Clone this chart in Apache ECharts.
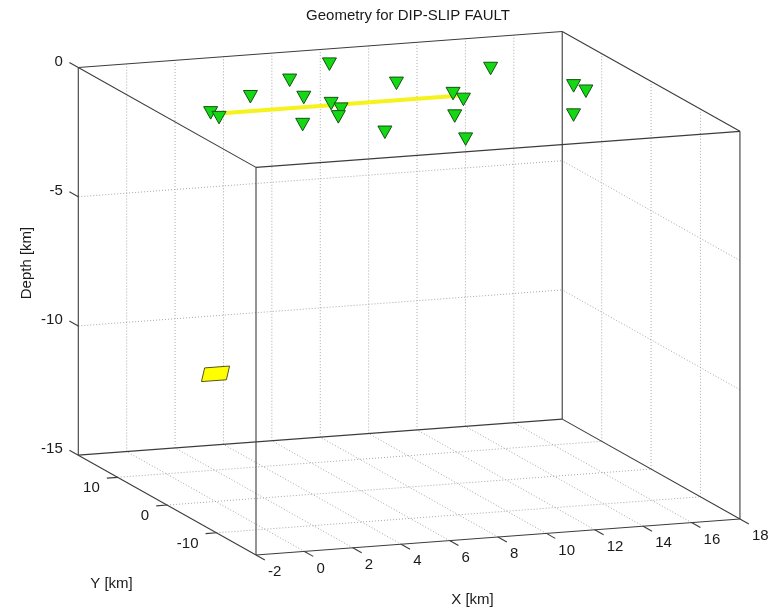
<!DOCTYPE html>
<html>
<head>
<meta charset="utf-8">
<script src="https://cdn.jsdelivr.net/npm/echarts@6/dist/echarts.min.js"></script>
<style>
html,body{margin:0;padding:0;background:#ffffff;}
#chart{width:776px;height:609px;}
</style>
</head>
<body>
<div id="chart"></div>
<script>
// ---------- data ----------
const TITLE = 'Geometry for DIP-SLIP FAULT';
const X_NAME = 'X [km]';
const Y_NAME = 'Y [km]';
const Z_NAME = 'Depth [km]';

const xLim = [-2, 18];
const yLim = [-18, 18];
const zLim = [-15, 0];
const xTicks = [-2, 0, 2, 4, 6, 8, 10, 12, 14, 16, 18];
const yTicks = [-10, 0, 10];
const zTicks = [0, -5, -10, -15];

// seismic stations (surface)
const stationX = [-0.1, -0.1, 2.4, 4.9, 7.4, 4.3, 2.5, 4.9, 4.9, 4.3, 8.6, 5.0, 13.0, 10.0, 10.0, 8.6, 7.5, 14.9, 15.0, 13.0];
const stationY = [0.5, -1.2, 4.7, 9.0, 13.2, 3.2, -5.4, 0.6, -1.4, -3.8, 5.5, -9.8, 8.0, 0.9, -1.2, -6.3, -13.9, 0.5, -1.5, -8.8];
const stationZ = [0, 0, 0, 0, 0, 0, 0, 0, 0, 0, 0, 0, 0, 0, 0, 0, 0, 0, 0, 0];

// fault surface trace
const traceX = [0, 10];
const traceY = [0, 0];
const traceZ = [0, 0];

// fault patch corners
const patchX = [-0.45, 0.58, 0.58, -0.45];
const patchY = [0, 0, 0.65, 0.65];
const patchZ = [-9.8, -9.8, -10.4, -10.4];

// ---------- view (orthographic 3D projection) ----------
const VIEW = { az: -20, el: 11.8, box: [515, 519.6, 396] };
function project(x, y, z) {
  const a = VIEW.az * Math.PI / 180, e = VIEW.el * Math.PI / 180;
  const nx = (x - xLim[0]) / (xLim[1] - xLim[0]) * VIEW.box[0];
  const ny = (y - yLim[0]) / (yLim[1] - yLim[0]) * VIEW.box[1];
  const nz = (z - zLim[0]) / (zLim[1] - zLim[0]) * VIEW.box[2];
  const u = nx * Math.cos(a) + ny * Math.sin(a);
  const v = (-nx * Math.sin(a) + ny * Math.cos(a)) * Math.sin(e) + nz * Math.cos(e);
  return [u, v];
}

const FONT = '15px "Liberation Sans", Arial, Helvetica, sans-serif';
const TEXT_COLOR = '#1a1a1a';
const EDGE_COLOR = '#3c3c3c';
const GRID_COLOR = '#a8a8a8';

function textEl(text, x, y, align, valign) {
  return {
    type: 'text',
    style: { text: text, x: x, y: y, fill: TEXT_COLOR, font: FONT,
      align: align, verticalAlign: valign, textAlign: align, textVerticalAlign: valign }
  };
}

function frameItem(params, api) {
  const P = (x, y, z) => api.coord(project(x, y, z));
  const children = [];
  const line = (p, q, style) => children.push({
    type: 'line', shape: { x1: p[0], y1: p[1], x2: q[0], y2: q[1] }, style: style
  });
  const gridStyle = { stroke: GRID_COLOR, lineWidth: 1, lineDash: [1, 2] };
  const edgeStyle = { stroke: EDGE_COLOR, lineWidth: 1.1 };
  const [x0, x1] = xLim, [y0, y1] = yLim, [z0, z1] = zLim;

  // grid on back wall (y=y1), right wall (x=x1) and floor (z=z0)
  xTicks.filter(t => t > x0 && t < x1).forEach(t => {
    line(P(t, y1, z0), P(t, y1, z1), gridStyle);
    line(P(t, y0, z0), P(t, y1, z0), gridStyle);
  });
  yTicks.filter(t => t > y0 && t < y1).forEach(t => {
    line(P(x1, t, z0), P(x1, t, z1), gridStyle);
    line(P(x0, t, z0), P(x1, t, z0), gridStyle);
  });
  zTicks.filter(t => t > z0 && t < z1).forEach(t => {
    line(P(x0, y1, t), P(x1, y1, t), gridStyle);
    line(P(x1, y0, t), P(x1, y1, t), gridStyle);
  });

  // box edges
  const xs = [x0, x1], ys = [y0, y1], zs = [z0, z1];
  ys.forEach(y => zs.forEach(z => line(P(x0, y, z), P(x1, y, z), edgeStyle)));
  xs.forEach(x => zs.forEach(z => line(P(x, y0, z), P(x, y1, z), edgeStyle)));
  xs.forEach(x => ys.forEach(y => line(P(x, y, z0), P(x, y, z1), edgeStyle)));

  // ticks and tick labels
  xTicks.forEach(t => {
    const a = P(t, y0, z0), b = P(t, y0 - 1.8, z0);
    line(a, b, edgeStyle);
    children.push(textEl(String(t), a[0] + 12, a[1] + 17, 'left', 'middle'));
  });
  yTicks.forEach(t => {
    const a = P(x0, t, z0), b = P(x0 - 0.45, t, z0);
    line(a, b, edgeStyle);
    children.push(textEl(String(t), a[0] - 18, a[1] + 11, 'right', 'middle'));
  });
  zTicks.forEach(t => {
    const a = P(x0, y1, t), b = P(x0, y1 + 1.8, t);
    line(a, b, edgeStyle);
    children.push(textEl(String(t), a[0] - 15.5, a[1] - 6, 'right', 'middle'));
  });
  return { type: 'group', children: children };
}

function patchItem(params, api) {
  const pts = patchX.map((x, i) => api.coord(project(x, patchY[i], patchZ[i])));
  return { type: 'polygon', shape: { points: pts },
    style: { fill: '#ffff00', stroke: '#55551a', lineWidth: 1 } };
}

function traceItem(params, api) {
  const pts = traceX.map((x, i) => api.coord(project(x, traceY[i], traceZ[i])));
  return { type: 'polyline', shape: { points: pts },
    style: { stroke: '#f6f21c', lineWidth: 4, fill: null } };
}

function stationItem(params, api) {
  const c = api.coord(project(api.value(0), api.value(1), api.value(2)));
  return {
    type: 'polygon',
    shape: { points: [[c[0] - 7, c[1] - 6], [c[0] + 7, c[1] - 6], [c[0], c[1] + 6.5]] },
    style: { fill: '#14d814', stroke: '#125212', lineWidth: 1 }
  };
}

const chart = echarts.init(document.getElementById('chart'), null, { renderer: 'canvas' });
chart.setOption({
  animation: false,
  backgroundColor: '#ffffff',
  grid: { left: 0, right: 0, top: 0, bottom: 0 },
  xAxis: { type: 'value', min: -256, max: 520, show: false },
  yAxis: { type: 'value', min: -54, max: 555, show: false },
  graphic: [
    { type: 'text', x: 408, y: 15.5, style: { text: TITLE, fill: TEXT_COLOR, font: FONT,
      align: 'center', verticalAlign: 'middle', textAlign: 'center', textVerticalAlign: 'middle' } },
    { type: 'text', x: 472.5, y: 600, style: { text: X_NAME, fill: TEXT_COLOR, font: FONT,
      align: 'center', verticalAlign: 'middle', textAlign: 'center', textVerticalAlign: 'middle' } },
    { type: 'text', x: 111.5, y: 584, style: { text: Y_NAME, fill: TEXT_COLOR, font: FONT,
      align: 'center', verticalAlign: 'middle', textAlign: 'center', textVerticalAlign: 'middle' } },
    { type: 'text', x: 27, y: 263, rotation: Math.PI / 2, style: { text: Z_NAME, fill: TEXT_COLOR, font: FONT,
      align: 'center', verticalAlign: 'middle', textAlign: 'center', textVerticalAlign: 'middle' } }
  ],
  series: [
    { type: 'custom', coordinateSystem: 'cartesian2d', renderItem: frameItem, data: [[0, 0]], silent: true, z: 1 },
    { type: 'custom', coordinateSystem: 'cartesian2d', renderItem: patchItem, data: [[0, 0]], z: 2 },
    { type: 'custom', coordinateSystem: 'cartesian2d', renderItem: traceItem, data: [[0, 0]], z: 3 },
    { type: 'custom', coordinateSystem: 'cartesian2d', renderItem: stationItem,
      data: stationX.map((x, i) => [x, stationY[i], stationZ[i]]), z: 4 }
  ]
});
</script>
</body>
</html>
